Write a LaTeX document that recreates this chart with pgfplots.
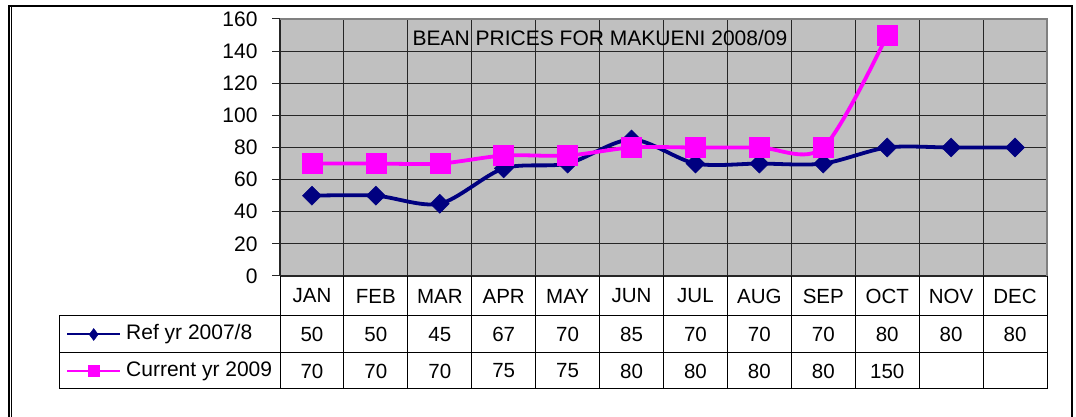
\documentclass[border=0pt]{standalone}
\usepackage{fontspec}
\setmainfont{Liberation Sans}
\usepackage{pgfplots}
\pgfplotsset{compat=1.18}
\definecolor{refnavy}{RGB}{0,0,128}
\definecolor{curmag}{RGB}{255,0,255}
\definecolor{plotgray}{RGB}{192,192,192}
\newcommand{\chartfont}{\fontsize{21}{24}\selectfont}

\begin{document}
\begin{tikzpicture}
\useasboundingbox (0pt,0pt) rectangle (1076pt,417pt);
% outer frame of the chart (bottom edge is cut off)
\draw[line width=2pt] (9pt,-20pt) -- (9pt,411pt) -- (1072pt,411pt) -- (1072pt,-20pt);
\draw[line width=1pt] (11.5pt,-20pt) -- (11.5pt,410pt);

\begin{axis}[
  at={(280pt,141pt)}, anchor=south west,
  scale only axis, width=767pt, height=257pt,
  xmin=0.5, xmax=12.5, ymin=0, ymax=160,
  axis x line*=bottom, axis y line*=left,
  axis line style={black!85, line width=1pt, -},
  axis background/.style={fill=plotgray},
  xtick={0.5,1.5,...,12.5}, xticklabels={}, xtick style={draw=none},
  ytick={0,20,...,160}, ytick style={black!85, line width=1pt},
  tick align=outside, major tick length=8pt,
  /pgf/number format/assume math mode=true,
  yticklabel style={font=\chartfont, xshift=-11pt},
  grid=major, major grid style={black!85, line width=1.1pt},
  clip=false,
  legend image code/.code={
    \draw[#1] (0pt,0pt) -- (53pt,0pt);
    \draw[#1] plot coordinates {(26.5pt,0pt)};
  },
  legend cell align=left,
  legend style={at={(axis description cs:-0.279,-0.2986)}, anchor=west,
    draw=none, fill=none, inner sep=0pt, row sep=17.5pt,
    nodes={inner sep=0pt, text height=15pt, text depth=4pt, font=\chartfont},
    /tikz/every odd column/.append style={column sep=5pt}},
]
\addplot[refnavy, line width=3.8pt, smooth, mark=diamond*, mark size=9.5pt,
  mark options={xscale=1.33, line width=0.5pt}, forget plot]
  coordinates {(1,50)(2,50)(3,45)(4,67)(5,70)(6,85)(7,70)(8,70)(9,70)(10,80)(11,80)(12,80)};
\addplot[curmag, line width=3.8pt, smooth, mark=square*, mark size=10pt,
  mark options={line width=0.5pt}, forget plot]
  coordinates {(1,70)(2,70)(3,70)(4,75)(5,75)(6,80)(7,80)(8,80)(9,80)(10,150)};
\addlegendimage{refnavy, line width=2pt, mark=diamond*, mark size=6pt, mark options={line width=0.4pt}}
\addlegendentry{Ref yr 2007/8}
\addlegendimage{curmag, line width=2pt, mark=square*, mark size=5.5pt, mark options={line width=0.4pt}}
\addlegendentry{Current yr 2009}
\node[font=\chartfont, anchor=center] at (rel axis cs:0.4172,0.926) {BEAN PRICES FOR MAKUENI 2008/09};
\end{axis}

% gray top and right edges of the plot area
\draw[gray, line width=2pt] (280pt,398pt) -- (1047pt,398pt) -- (1047pt,141pt);

% data table below the plot
\draw[line width=1pt] (1047pt,141pt) -- (1047pt,28pt) -- (59pt,28pt) -- (59pt,101pt) -- (1047pt,101pt);
\draw[line width=1pt] (59pt,64pt) -- (1047pt,64pt);
\draw[line width=1pt] (280pt,141pt) -- (280pt,28pt);
\foreach \k in {1,...,11} {
  \draw[line width=1pt] ({280pt+63.9167pt*\k},141pt) -- ({280pt+63.9167pt*\k},28pt);
}
\foreach \m [count=\k] in {JAN,FEB,MAR,APR,MAY,JUN,JUL,AUG,SEP,OCT,NOV,DEC} {
  \node[font=\fontsize{20.5}{24}\selectfont] at ({280pt+63.9167pt*(\k-0.5)},121pt) {\m};
}
\foreach \v [count=\k] in {50,50,45,67,70,85,70,70,70,80,80,80} {
  \node[font=\fontsize{20.5}{24}\selectfont] at ({280pt+63.9167pt*(\k-0.5)},82.5pt) {\v};
}
\foreach \v [count=\k] in {70,70,70,75,75,80,80,80,80,150} {
  \node[font=\fontsize{20.5}{24}\selectfont] at ({280pt+63.9167pt*(\k-0.5)},46pt) {\v};
}
\end{tikzpicture}
\end{document}
